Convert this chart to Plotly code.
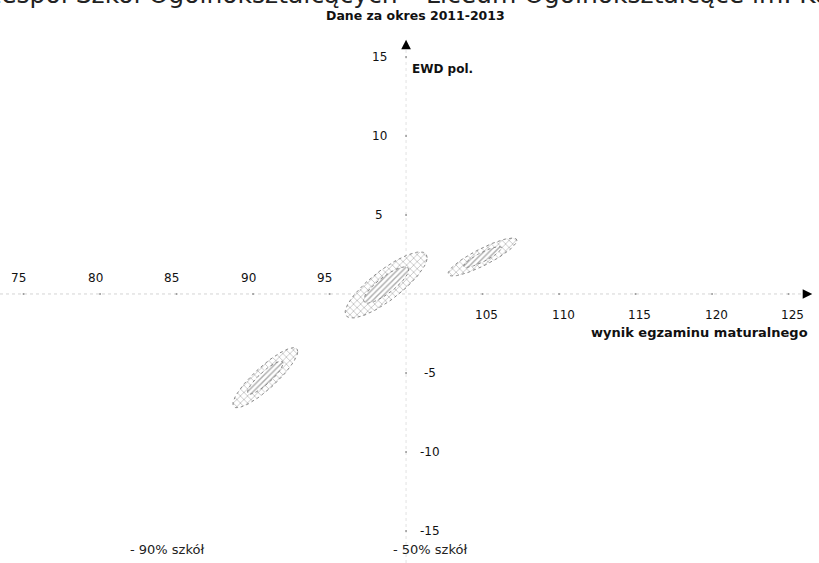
import numpy as np
import plotly.graph_objects as go

# ---- data ----
x_ticks = [75, 80, 85, 90, 95, 105, 110, 115, 120, 125]
y_ticks = [-15, -10, -5, 5, 10, 15]

school_cx = [90.8, 98.7, 105.0]
school_cy = [-5.3, 0.57, 2.34]
school_sx = [2.12, 2.68, 2.25]
school_sy = [1.9, 2.09, 1.2]
school_rho = [0.875, 0.83, 0.87]

level_names = ["90% szkół", "50% szkół"]
level_scale = [1.0, 0.55]

title_text = "Zespół Szkół Ogólnokształcących – Liceum Ogólnokształcące im. Kopernika"
subtitle_text = "Dane za okres 2011-2013"
x_title = "wynik egzaminu maturalnego"
y_title = "EWD pol."

# ---- layout helpers ----
W, H = 819, 563
X_RANGE = [73.46, 126.99]
Y_RANGE = [-17.03, 18.61]
FONT = "DejaVu Sans"


def px(x):
    return x / W


def py(y):
    return 1 - y / H


fig = go.Figure()

# axes (faint dotted lines)
fig.add_trace(go.Scatter(x=[X_RANGE[0], 126.2], y=[0, 0], mode="lines",
                         line=dict(color="#d4d4d4", width=1, dash="dot"),
                         hoverinfo="skip"))
fig.add_trace(go.Scatter(x=[100, 100], y=[Y_RANGE[0], 15.8], mode="lines",
                         line=dict(color="#e2e2e2", width=1, dash="dot"),
                         hoverinfo="skip"))
# tick dots
fig.add_trace(go.Scatter(x=x_ticks, y=[0] * len(x_ticks), mode="markers",
                         marker=dict(size=2, color="#999"), hoverinfo="skip"))
fig.add_trace(go.Scatter(x=[100] * len(y_ticks), y=y_ticks, mode="markers",
                         marker=dict(size=2, color="#999"), hoverinfo="skip"))

# ellipses
t = np.linspace(0, 2 * np.pi, 120)
patterns = [
    dict(shape="x", fgcolor="#7a7a7a", bgcolor="white", size=5, solidity=0.28),
    dict(shape="/", fgcolor="#555555", bgcolor="white", size=4, solidity=0.35),
]
for li, (name, k) in enumerate(zip(level_names, level_scale)):
    for cx, cy, sx, sy, r in zip(school_cx, school_cy, school_sx, school_sy, school_rho):
        ex = cx + k * sx * np.cos(t)
        ey = cy + k * sy * (r * np.cos(t) + np.sqrt(1 - r * r) * np.sin(t))
        fig.add_trace(go.Scatter(
            x=ex, y=ey, mode="lines", fill="toself",
            fillcolor="rgba(255,255,255,0)",
            fillpattern=patterns[li],
            line=dict(color="#8a8a8a", width=1, dash="dot"),
            name=name, hoverinfo="skip"))

annotations = []
# x tick labels
for v in x_ticks:
    if v < 100:
        annotations.append(dict(x=v, y=0, xref="x", yref="y", text=str(v),
                                showarrow=False, xshift=-5, yshift=16,
                                font=dict(family=FONT, size=12, color="#111")))
    else:
        annotations.append(dict(x=v, y=0, xref="x", yref="y", text=str(v),
                                showarrow=False, xshift=4, yshift=-21,
                                font=dict(family=FONT, size=12, color="#111")))
# y tick labels
for v in y_ticks:
    annotations.append(dict(x=100, y=v, xref="x", yref="y", text=str(v),
                            showarrow=False, xshift=(-27 if v > 0 else 24),
                            font=dict(family=FONT, size=12, color="#111")))

# axis arrow heads
annotations += [
    dict(x=100, y=16.1, xref="x", yref="y", text="", showarrow=True,
         ax=0, ay=9, arrowhead=2, arrowsize=1.6, arrowwidth=1.2,
         arrowcolor="black"),
    dict(x=126.55, y=0, xref="x", yref="y", text="", showarrow=True,
         ax=-9, ay=0, arrowhead=2, arrowsize=1.6, arrowwidth=1.2,
         arrowcolor="black"),
]

annotations += [
    dict(x=px(-18), y=py(11), xref="paper", yref="paper", xanchor="left",
         yanchor="bottom", text=title_text, showarrow=False,
         font=dict(family=FONT, size=25, color="#222")),
    dict(x=px(415), y=py(15), xref="paper", yref="paper", xanchor="center",
         yanchor="middle", text=subtitle_text, showarrow=False,
         font=dict(family=FONT, size=12.5, color="#111", weight="bold")),
    dict(x=px(410), y=py(69), xref="paper", yref="paper", xanchor="left",
         yanchor="middle", text=y_title, showarrow=False,
         font=dict(family=FONT, size=12, color="#111", weight="bold")),
    dict(x=px(810), y=py(333), xref="paper", yref="paper", xanchor="right",
         yanchor="middle", text=x_title, showarrow=False,
         font=dict(family=FONT, size=13, color="#111", weight="bold")),
    dict(x=px(167), y=py(549), xref="paper", yref="paper", xanchor="center",
         yanchor="middle", text="- " + level_names[0], showarrow=False,
         font=dict(family=FONT, size=13, color="#222")),
    dict(x=px(430), y=py(549), xref="paper", yref="paper", xanchor="center",
         yanchor="middle", text="- " + level_names[1], showarrow=False,
         font=dict(family=FONT, size=13, color="#222")),
]

fig.update_layout(
    width=W, height=H,
    margin=dict(l=0, r=0, t=0, b=0),
    paper_bgcolor="white", plot_bgcolor="white",
    showlegend=False,
    xaxis=dict(range=X_RANGE, visible=False, fixedrange=True),
    yaxis=dict(range=Y_RANGE, visible=False, fixedrange=True),
    annotations=annotations,
)

fig.write_html("out.html",
               config={"displayModeBar": False, "staticPlot": True},
               post_script="document.body.style.margin='0';"
                           "document.body.style.overflow='hidden';")
